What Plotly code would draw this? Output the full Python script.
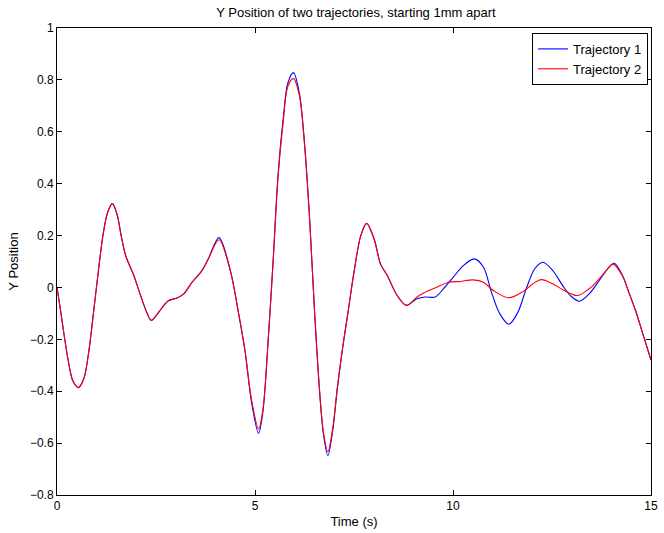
import plotly.graph_objects as go

# Trajectory 1 (blue): time (s) and Y position
time_1 = [0.00, 0.10, 0.27, 0.40, 0.54, 0.68, 0.80, 0.92, 1.05, 1.17, 1.28, 1.40, 1.52, 1.62, 1.735, 1.94, 2.11, 2.28, 2.38,
          2.57, 2.70, 2.82, 3.03, 3.20, 3.41, 3.66, 3.82, 4.09, 4.37, 4.58, 4.75, 4.91, 5.09, 5.20,
          5.33, 5.46, 5.58, 5.71, 5.83, 5.97, 6.12, 6.25, 6.38, 6.50, 6.63, 6.73, 6.84, 6.96, 7.08,
          7.21, 7.34, 7.50, 7.67, 7.82, 8.01, 8.17, 8.34, 8.59, 8.82,
          9.09, 9.30, 9.55, 9.76, 10.01, 10.26, 10.54, 10.77, 10.97, 11.18, 11.41, 11.64, 11.85,
          12.06, 12.27, 12.52, 12.77, 12.98, 13.19, 13.44, 13.69, 13.90, 14.07, 14.28, 14.44,
          14.61, 14.78, 15.00]
ypos_1 = [0.000, -0.10, -0.27, -0.36, -0.386, -0.35, -0.25, -0.10, 0.07, 0.21, 0.29, 0.323, 0.28, 0.20, 0.122, 0.046, -0.031, -0.101, -0.127,
          -0.095, -0.069, -0.05, -0.041, -0.025, 0.02, 0.065, 0.11, 0.192, 0.071, -0.095, -0.248, -0.44, -0.562, -0.479,
          -0.21, 0.11, 0.43, 0.647, 0.788, 0.828, 0.75, 0.558, 0.263, -0.082, -0.40, -0.568, -0.648, -0.555, -0.389,
          -0.236, -0.105, 0.059, 0.199, 0.247, 0.186, 0.09, 0.046, -0.031, -0.069,
          -0.044, -0.037, -0.037, -0.005, 0.04, 0.084, 0.11, 0.078, -0.018, -0.101, -0.142, -0.095, -0.005,
          0.071, 0.097, 0.065, 0.007, -0.034, -0.053, -0.025, 0.026, 0.071, 0.093, 0.046, -0.018,
          -0.089, -0.172, -0.28]

# Trajectory 2 (red)
time_2 = [0.00, 0.10, 0.27, 0.40, 0.54, 0.68, 0.80, 0.92, 1.05, 1.17, 1.28, 1.40, 1.52, 1.62, 1.735, 1.94, 2.11, 2.28, 2.38,
          2.57, 2.70, 2.82, 3.03, 3.20, 3.41, 3.66, 3.82, 4.09, 4.37, 4.58, 4.75, 4.91, 5.09, 5.20,
          5.33, 5.46, 5.58, 5.71, 5.83, 5.97, 6.12, 6.25, 6.38, 6.50, 6.63, 6.73, 6.84, 6.96, 7.08,
          7.21, 7.34, 7.50, 7.67, 7.82, 8.01, 8.17, 8.34, 8.59, 8.82,
          9.09, 9.26, 9.59, 9.89, 10.18, 10.51, 10.77, 11.02, 11.41, 11.77, 12.02, 12.23, 12.52,
          12.81, 13.15, 13.44, 13.69, 13.90, 14.04, 14.28, 14.44, 14.61, 14.78, 15.00]
ypos_2 = [0.000, -0.10, -0.27, -0.36, -0.386, -0.35, -0.25, -0.10, 0.07, 0.21, 0.29, 0.323, 0.28, 0.20, 0.122, 0.046, -0.031, -0.101, -0.127,
          -0.095, -0.069, -0.05, -0.041, -0.025, 0.02, 0.065, 0.11, 0.184, 0.068, -0.095, -0.245, -0.43, -0.545, -0.47,
          -0.21, 0.105, 0.42, 0.635, 0.775, 0.805, 0.74, 0.55, 0.26, -0.082, -0.395, -0.56, -0.633, -0.545, -0.385,
          -0.236, -0.105, 0.059, 0.199, 0.247, 0.186, 0.09, 0.046, -0.031, -0.069,
          -0.037, -0.021, 0.001, 0.02, 0.023, 0.029, 0.02, -0.012, -0.04, -0.016, 0.014, 0.03, 0.014,
          -0.012, -0.031, -0.005, 0.033, 0.071, 0.09, 0.044, -0.02, -0.09, -0.172, -0.28]

x_ticks = [0, 5, 10, 15]
y_ticks = [-0.8, -0.6, -0.4, -0.2, 0, 0.2, 0.4, 0.6, 0.8, 1]

FONT = "Liberation Sans, Arial, Helvetica, sans-serif"

fig = go.Figure()
fig.add_trace(go.Scatter(x=time_1, y=ypos_1, mode="lines", name="Trajectory 1",
                         line=dict(color="rgb(0,0,255)", width=1.1, shape="spline", smoothing=0.9)))
fig.add_trace(go.Scatter(x=time_2, y=ypos_2, mode="lines", name="Trajectory 2",
                         line=dict(color="rgb(255,0,0)", width=1.1, shape="spline", smoothing=0.9)))

axis_common = dict(showline=True, linecolor="black", linewidth=1, mirror="ticks",
                   ticks="inside", ticklen=5, tickcolor="black", tickwidth=1,
                   showgrid=False, zeroline=False,
                   tickfont=dict(family=FONT, size=12, color="black"))

fig.update_layout(
    width=664, height=533,
    margin=dict(l=57, r=6, t=28, b=34),
    paper_bgcolor="white", plot_bgcolor="white",
    font=dict(family=FONT, size=12, color="black"),
    title=dict(text="Y Position of two trajectories, starting 1mm apart",
               x=0.536, xanchor="center", y=1 - 12 / 533, yanchor="middle",
               font=dict(family=FONT, size=13, color="black")),
    xaxis=dict(range=[0, 15], tickvals=x_ticks, ticktext=[str(v) for v in x_ticks],
               ticklabeloverflow="allow",
               title=dict(text="Time (s)", standoff=4, font=dict(family=FONT, size=13)),
               **axis_common),
    yaxis=dict(range=[-0.8, 1], tickvals=y_ticks,
               title=dict(text="Y Position", standoff=8, font=dict(family=FONT, size=13)),
               **axis_common),
    legend=dict(x=1 - 3 / 601, xanchor="right", y=1 - 5 / 471, yanchor="top",
                bordercolor="black", borderwidth=1, bgcolor="white",
                font=dict(family=FONT, size=13, color="black"),
                tracegroupgap=0, itemwidth=30),
    showlegend=True,
)

fig.write_html("out.html")
